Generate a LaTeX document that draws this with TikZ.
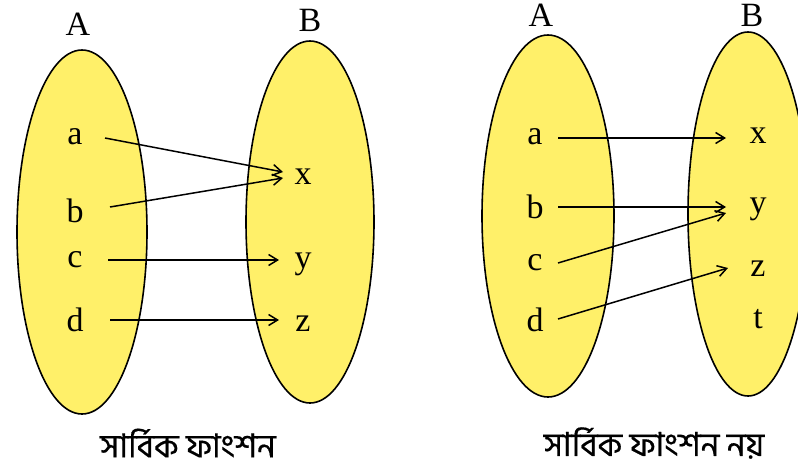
\documentclass[tikz,border=0pt]{standalone}
\usepackage{fontspec}
\setmainfont{Liberation Serif}
\newfontfamily\bengfont[Script=Bengali,FakeBold=0.4]{Hind Siliguri}
\usetikzlibrary{arrows.meta}
\definecolor{setyellow}{RGB}{255,240,105}
\tikzset{
  setell/.style={draw=black, line width=1.6pt, fill=setyellow},
  letter/.style={anchor=base, inner sep=0pt, font=\fontsize{34}{40}\selectfont},
  arr/.style={line width=1.5pt, -{Straight Barb[length=9pt,width=11pt,line width=1.5pt]}},
  caption/.style={inner sep=0pt, font=\bengfont\fontsize{33}{38}\selectfont}
}
\begin{document}
\begin{tikzpicture}[x=1pt,y=-1pt]
\useasboundingbox (0,0) rectangle (798,474);
\clip (0,0) rectangle (798,474);
% sets
\draw[setell] (82,232) ellipse [x radius=65, y radius=182];
\draw[setell] (310,222) ellipse [x radius=64, y radius=181];
\draw[setell] (548,216) ellipse [x radius=66, y radius=181];
\draw[setell] (748,214) ellipse [x radius=60, y radius=182];
% set names
\node[letter] (A1) at (78,35) {A};
\node[letter] (B1) at (310,31) {B};
\node[letter] (A2) at (541,26) {A};
\node[letter] (B2) at (752,26) {B};
% left elements
\node[letter] (la) at (75,144) {a};
\node[letter] (lb) at (75,222) {b};
\node[letter] (lc) at (75,267) {c};
\node[letter] (ld) at (75,331) {d};
\node[letter] (lx) at (303,184) {x};
\node[letter] (ly) at (303,268) {y};
\node[letter] (lz) at (303,331) {z};
% right elements
\node[letter] (ra) at (535,144) {a};
\node[letter] (rb) at (535,218) {b};
\node[letter] (rc) at (535,270) {c};
\node[letter] (rd) at (535,331) {d};
\node[letter] (rx) at (758,143) {x};
\node[letter] (ry) at (758,213) {y};
\node[letter] (rz) at (758,276) {z};
\node[letter] (rt) at (758,328) {t};
% arrow ends
\coordinate (la-o) at (105,138);
\coordinate (lb-o) at (110,207);
\coordinate (lc-o) at (108,260);
\coordinate (ld-o) at (110,320);
\coordinate (lx-i1) at (283,172);
\coordinate (lx-i2) at (283,178);
\coordinate (ly-i) at (279,260);
\coordinate (lz-i) at (279,320);
\coordinate (ra-o) at (558,138);
\coordinate (rb-o) at (558,207);
\coordinate (rc-o) at (558,263);
\coordinate (rd-o) at (558,319);
\coordinate (rx-i) at (726,138);
\coordinate (ry-i1) at (726,207);
\coordinate (ry-i2) at (726,213);
\coordinate (rz-i) at (728,268);
\draw[arr] (la-o) -- (lx-i1);
\draw[arr] (lb-o) -- (lx-i2);
\draw[arr] (lc-o) -- (ly-i);
\draw[arr] (ld-o) -- (lz-i);
\draw[arr] (ra-o) -- (rx-i);
\draw[arr] (rb-o) -- (ry-i1);
\draw[arr] (rc-o) -- (ry-i2);
\draw[arr] (rd-o) -- (rz-i);
% captions
\node[caption] (cap1) at (188,443) {সার্বিক ফাংশন};
\node[caption] (cap2) at (654,443) {সার্বিক ফাংশন নয়};
\end{tikzpicture}
\end{document}
